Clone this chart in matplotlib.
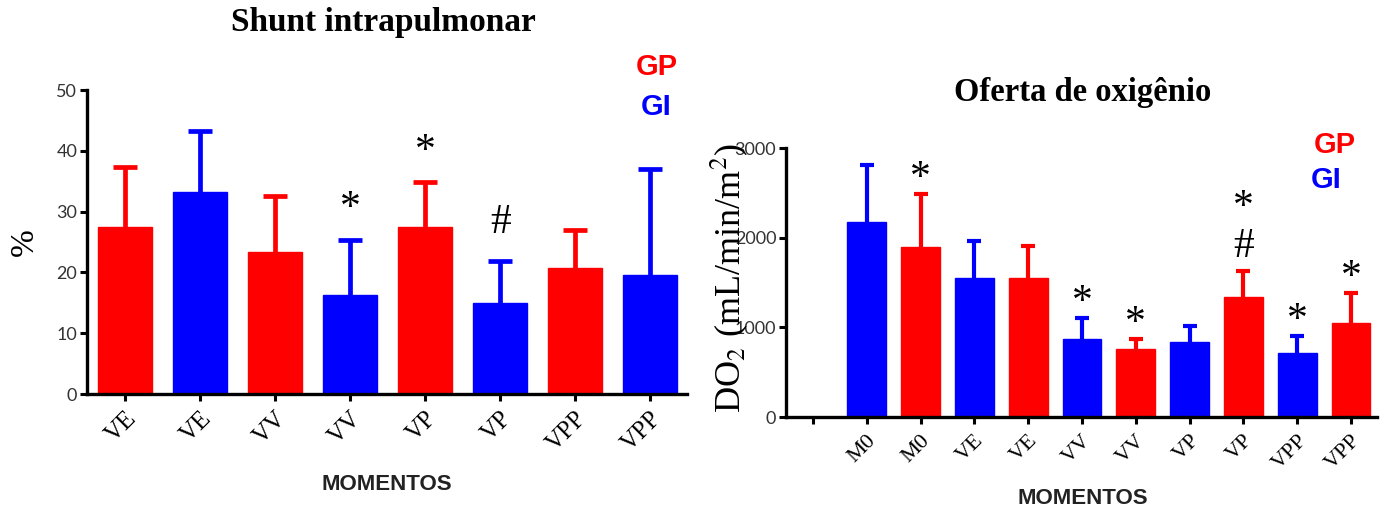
import matplotlib as mpl
mpl.use("Agg")
import matplotlib.pyplot as plt
import numpy as np

# colours of the two groups
RED = '#ff0000'
BLUE = '#0000ff'

# Shunt intrapulmonar (%)
shunt_labels = ['VE', 'VE', 'VV', 'VV', 'VP', 'VP', 'VPP', 'VPP']
shunt_groups = ['GP', 'GI', 'GP', 'GI', 'GP', 'GI', 'GP', 'GI']
shunt_mean = [27.5, 33.2, 23.3, 16.3, 27.5, 15.0, 20.8, 19.6]
shunt_top = [37.3, 43.3, 32.5, 25.4, 34.8, 21.8, 27.0, 37.0]
shunt_marks = ['', '', '', '*', '*', '#', '', '']

# Oferta de oxigenio (DO2), first slot is empty
do2_labels = ['', 'M0', 'M0', 'VE', 'VE', 'VV', 'VV', 'VP', 'VP', 'VPP', 'VPP']
do2_groups = ['', 'GI', 'GP', 'GI', 'GP', 'GI', 'GP', 'GI', 'GP', 'GI', 'GP']
do2_mean = [0, 2175, 1896, 1554, 1554, 874, 755, 833, 1342, 710, 1045]
do2_top = [0, 2814, 2491, 1959, 1903, 1108, 866, 1011, 1632, 903, 1379]
do2_marks = ['', '', '*', '', '', '*', '*', '', '#*', '*', '*']

colours = {'GP': RED, 'GI': BLUE}

plt.rcParams['mathtext.fontset'] = 'stix'
fig = plt.figure(figsize=(13.84, 5.08), dpi=100)


def style_axes(ax):
    for s in ['top', 'right']:
        ax.spines[s].set_visible(False)
    for s in ['left', 'bottom']:
        ax.spines[s].set_linewidth(2.4)
    ax.tick_params(direction='out', length=5, width=2.2, color='black')
    ax.tick_params(axis='y', labelsize=13, labelcolor='#333333', pad=2)
    for t in ax.get_yticklabels():
        t.set_family('Lato')


def draw(ax, labels, groups, mean, top, marks, capsize, ew, gap, step, xfont):
    x = np.arange(len(labels))
    for i in x:
        if groups[i] == '':
            continue
        c = colours[groups[i]]
        ax.bar(i, mean[i], width=0.72, color=c, edgecolor=c, zorder=2)
        eb = ax.errorbar(i, mean[i], yerr=[[0], [top[i] - mean[i]]], fmt='none',
                         ecolor=c, elinewidth=ew, capsize=capsize, capthick=ew,
                         zorder=1)
        # only the upper whisker gets a cap
        eb[1][0].set_visible(False)
        for k, m in enumerate(marks[i]):
            dy = -8 if m == '*' else -2
            ax.annotate(m, (i, top[i]), xytext=(0, gap + k * step + dy),
                        textcoords='offset points', ha='center', va='center',
                        fontsize=30, family='Liberation Serif')
    ax.set_xticks(x)
    ax.set_xticklabels(labels, rotation=45, ha='right', va='top',
                       rotation_mode='anchor', fontsize=xfont,
                       family='Liberation Serif')
    ax.tick_params(axis='x', pad=5)


# left chart
ax1 = fig.add_axes([0.0629, 0.2244, 0.4335, 0.5984])
draw(ax1, shunt_labels, shunt_groups, shunt_mean, shunt_top, shunt_marks,
     capsize=8.5, ew=3.4, gap=30, step=34, xfont=18)
ax1.set_xlim(-0.51, 7.49)
ax1.set_ylim(0, 50)
ax1.set_yticks([0, 10, 20, 30, 40, 50])
style_axes(ax1)

# right chart
ax2 = fig.add_axes([0.5679, 0.1791, 0.4270, 0.5295])
draw(ax2, do2_labels, do2_groups, do2_mean, do2_top, do2_marks,
     capsize=4.8, ew=3.0, gap=19, step=34, xfont=16)
ax2.set_xlim(-0.5, 10.48)
ax2.set_ylim(0, 3000)
ax2.set_yticks([0, 1000, 2000, 3000])
style_axes(ax2)

# titles and labels
fig.text(0.2767, 0.9390, 'Shunt intrapulmonar', ha='center', va='baseline',
         fontsize=24, fontweight='bold', family='Liberation Serif')
fig.text(0.7825, 0.8012, 'Oferta de oxigênio', ha='center', va='baseline',
         fontsize=23.5, fontweight='bold', family='Liberation Serif')

fig.text(0.0181, 0.5236, '%', rotation=90, ha='center', va='center',
         fontsize=24, family='Liberation Serif')
fig.text(0.5267, 0.4528, r'DO$_2$ (mL/min/m$^2$)', rotation=90, ha='center',
         va='center', fontsize=26, family='Liberation Serif')

fig.text(0.2796, 0.0354, 'MOMENTOS', ha='center', va='baseline',
         fontsize=16, fontweight='bold', family='Liberation Sans', color='#222222')
fig.text(0.7825, 0.0079, 'MOMENTOS', ha='center', va='baseline',
         fontsize=16, fontweight='bold', family='Liberation Sans', color='#222222')

# group keys
for (x, y, s, c) in [(0.4747, 0.8524, 'GP', RED), (0.4740, 0.7736, 'GI', BLUE),
                     (0.9646, 0.6988, 'GP', RED), (0.9581, 0.6299, 'GI', BLUE)]:
    fig.text(x, y, s, ha='center', va='baseline', fontsize=21,
             fontweight='bold', family='Liberation Sans', color=c)

plt.savefig('out.png', dpi=100)
